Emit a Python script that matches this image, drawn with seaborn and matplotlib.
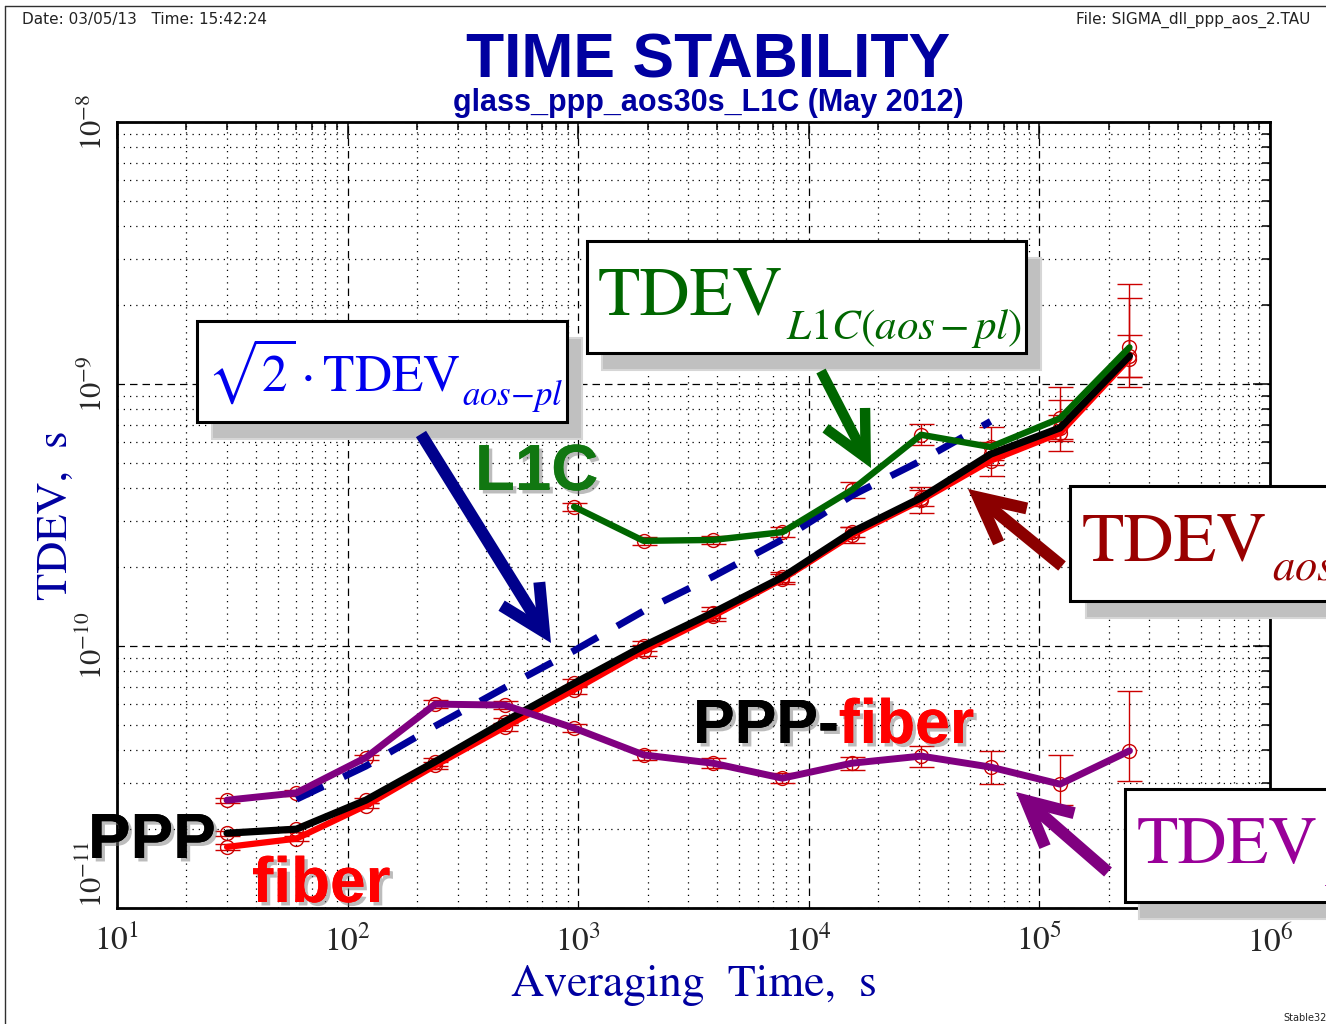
import numpy as np
import pandas as pd
import matplotlib
matplotlib.use("Agg")
import matplotlib.pyplot as plt
import seaborn as sns
from matplotlib.patches import Rectangle, FancyArrowPatch, ArrowStyle
import matplotlib.patheffects as pe
from matplotlib.ticker import FixedLocator, FixedFormatter, LogLocator, NullFormatter

# ---------------- data ----------------
tau = [30, 60, 120, 240, 480, 960, 1920, 3840, 7680, 15360, 30720, 61440, 122880, 245760]

tdev_aos_pl = [1.71e-11, 1.84e-11, 2.46e-11, 3.50e-11, 4.90e-11, 6.80e-11, 9.60e-11,
               1.30e-10, 1.80e-10, 2.65e-10, 3.60e-10, 5.10e-10, 6.50e-10, 1.25e-9]
tdev_ppp = [1.93e-11, 2.00e-11, 2.58e-11, 3.62e-11, 5.15e-11, 7.20e-11, 1.00e-10,
            1.34e-10, 1.83e-10, 2.72e-10, 3.68e-10, 5.40e-10, 6.80e-10, 1.28e-9]
tdev_ppp_fiber = [2.58e-11, 2.75e-11, 3.75e-11, 6.00e-11, 5.95e-11, 4.86e-11, 3.84e-11,
                  3.57e-11, 3.13e-11, 3.57e-11, 3.80e-11, 3.45e-11, 2.97e-11, 3.98e-11]
tau_l1c = [960, 1920, 3840, 7680, 15360, 30720, 61440, 122880, 245760]
tdev_l1c = [3.40e-10, 2.52e-10, 2.54e-10, 2.72e-10, 3.94e-10, 6.40e-10, 5.75e-10, 7.40e-10, 1.38e-9]
tau_sqrt2 = [60, 120, 240, 480, 960, 1920, 3840, 7680, 15360, 30720, 61440]
sqrt2_tdev_aos_pl = [2.60e-11, 3.48e-11, 4.95e-11, 6.93e-11, 9.60e-11, 1.36e-10,
                     1.84e-10, 2.55e-10, 3.75e-10, 5.10e-10, 7.20e-10]

# error bars, in decades below / above each point
err_aos_lo = [0.01, 0.01, 0.01, 0.015, 0.015, 0.015, 0.02, 0.02, 0.02, 0.03, 0.05, 0.06, 0.07, 0.11]
err_aos_hi = [0.01, 0.01, 0.01, 0.015, 0.015, 0.015, 0.02, 0.02, 0.02, 0.03, 0.05, 0.07, 0.125, 0.23]
err_ppp_lo = [0.01, 0.01, 0.01, 0.015, 0.015, 0.015, 0.02, 0.02, 0.02, 0.02, 0.03, 0.04, 0.05, 0.08]
err_ppp_hi = [0.01, 0.01, 0.01, 0.015, 0.015, 0.015, 0.02, 0.02, 0.02, 0.02, 0.03, 0.04, 0.05, 0.08]
err_fib_lo = [0.01, 0.01, 0.01, 0.015, 0.015, 0.015, 0.02, 0.02, 0.02, 0.025, 0.04, 0.065, 0.08, 0.115]
err_fib_hi = [0.01, 0.01, 0.01, 0.015, 0.015, 0.015, 0.02, 0.02, 0.02, 0.025, 0.04, 0.06, 0.11, 0.23]
err_l1c_lo = [0.015, 0.015, 0.015, 0.02, 0.03, 0.04, 0.05, 0.08, 0.115]
err_l1c_hi = [0.015, 0.015, 0.015, 0.02, 0.03, 0.04, 0.075, 0.12, 0.24]

x_ticks = [1e1, 1e2, 1e3, 1e4, 1e5, 1e6]
x_tick_labels = [r'$10^{1}$', r'$10^{2}$', r'$10^{3}$', r'$10^{4}$', r'$10^{5}$', r'$10^{6}$']
y_ticks = [1e-11, 1e-10, 1e-9, 1e-8]
y_tick_labels = [r'$10^{{-}11}$', r'$10^{{-}10}$', r'$10^{{-}9}$', r'$10^{{-}8}$']

# ---------------- style ----------------
sns.set_style("white")
plt.rcParams['font.family'] = ['STIXGeneral', 'DejaVu Serif']
plt.rcParams['mathtext.fontset'] = 'stix'

W, H = 1326, 1024
fig = plt.figure(figsize=(W / 100, H / 100), dpi=100)
fig.patch.set_facecolor('white')

ax_l, ax_r, ax_t, ax_b = 117, 1270, 122, 908
ax = fig.add_axes([ax_l / W, 1 - ax_b / H, (ax_r - ax_l) / W, (ax_b - ax_t) / H])
ax.set_xscale('log')
ax.set_yscale('log')

mk = '#cc0000'


def draw_err(t, v, lo, hi):
    v = np.asarray(v)
    lo_abs = v - v * 10 ** (-np.asarray(lo))
    hi_abs = v * 10 ** np.asarray(hi) - v
    ax.errorbar(t, v, yerr=[lo_abs, hi_abs], fmt='o', ms=10, mfc='none', mec=mk, mew=1,
                ecolor=mk, elinewidth=1, capsize=9, capthick=1, zorder=2)


draw_err(tau, tdev_aos_pl, err_aos_lo, err_aos_hi)
draw_err(tau, tdev_ppp, err_ppp_lo, err_ppp_hi)
draw_err(tau, tdev_ppp_fiber, err_fib_lo, err_fib_hi)
draw_err(tau_l1c, tdev_l1c, err_l1c_lo, err_l1c_hi)

df_aos = pd.DataFrame({'tau': tau, 'tdev': tdev_aos_pl})
df_ppp = pd.DataFrame({'tau': tau, 'tdev': tdev_ppp})
df_fib = pd.DataFrame({'tau': tau, 'tdev': tdev_ppp_fiber})
df_l1c = pd.DataFrame({'tau': tau_l1c, 'tdev': tdev_l1c})
df_sq2 = pd.DataFrame({'tau': tau_sqrt2, 'tdev': sqrt2_tdev_aos_pl})

common = dict(x='tau', y='tdev', ax=ax, sort=False, estimator=None, legend=False)
sns.lineplot(data=df_aos, color='#ff0000', linewidth=4.5, zorder=3, **common)
sns.lineplot(data=df_ppp, color='black', linewidth=5.2, zorder=4, **common)
sns.lineplot(data=df_sq2, color='#00009a', linewidth=5, zorder=5,
             linestyle=(0, (4.3, 3.2)), **common)
sns.lineplot(data=df_fib, color='#800080', linewidth=5, zorder=6, **common)
sns.lineplot(data=df_l1c, color='#006600', linewidth=4.6, zorder=7, **common)

ax.set_xlim(1e1, 1e6)
ax.set_ylim(1e-11, 1e-8)
ax.xaxis.set_major_locator(FixedLocator(x_ticks))
ax.xaxis.set_major_formatter(FixedFormatter(x_tick_labels))
ax.yaxis.set_major_locator(FixedLocator(y_ticks))
ax.yaxis.set_major_formatter(FixedFormatter(y_tick_labels))
ax.xaxis.set_minor_locator(LogLocator(base=10, subs=np.arange(2, 10), numticks=50))
ax.yaxis.set_minor_locator(LogLocator(base=10, subs=np.arange(2, 10), numticks=50))
ax.xaxis.set_minor_formatter(NullFormatter())
ax.yaxis.set_minor_formatter(NullFormatter())

ax.set_axisbelow(True)
ax.grid(which='major', color='black', linestyle=(0, (6, 4)), linewidth=0.9)
ax.grid(which='minor', color='black', linestyle=(0, (1, 4)), linewidth=0.9)
ax.tick_params(which='both', direction='in', top=True, right=True, width=1.1, color='black')
ax.tick_params(which='major', length=12)
ax.tick_params(which='minor', length=6)
ax.tick_params(axis='x', which='major', pad=12, labelsize=24)
ax.tick_params(axis='y', which='major', pad=6, labelsize=22)
ylabs = ax.get_yticklabels()
for lab in ylabs:
    lab.set_rotation(90)
    lab.set_va('center')
ylabs[0].set_va('bottom')
for s in ax.spines.values():
    s.set_linewidth(2)
    s.set_color('black')

ax.set_xlabel('Averaging  Time,  s', fontsize=33, color='#0000a0', labelpad=4)
ax.set_ylabel('TDEV,  s', fontsize=32, color='#0000a0')
ax.yaxis.set_label_coords((76 - ax_l) / (ax_r - ax_l), 0.5)

# ---------------- overlay for annotations (pixel coordinates) ----------------
ov = fig.add_axes([0, 0, 1, 1])
ov.set_xlim(0, W)
ov.set_ylim(H, 0)
ov.axis('off')
ov.patch.set_visible(False)

ov.plot([5, W], [6, 6], color='#303030', lw=1)
ov.plot([5, 5], [6, H], color='#303030', lw=1)

ov.text(22, 24, 'Date: 03/05/13   Time: 15:42:24', fontsize=11, family='DejaVu Sans',
        color='#222222', va='baseline')
ov.text(1310, 24, 'File: SIGMA_dll_ppp_aos_2.TAU', fontsize=11, family='DejaVu Sans',
        color='#222222', va='baseline', ha='right')
ov.text(1283, 1021, 'Stable32', fontsize=7, family='DejaVu Sans', color='#222222', va='baseline')

ov.text(708, 77, 'TIME STABILITY', ha='center', va='baseline', fontsize=45,
        fontweight='bold', family='Liberation Sans', color='#0000a0')
ov.text(708, 111, 'glass_ppp_aos30s_L1C (May 2012)', ha='center', va='baseline', fontsize=22,
        fontweight='bold', family='Liberation Sans', color='#0000a0')


def box(x0, y0, w, h, dx=15, dy=16):
    ov.add_patch(Rectangle((x0 + dx, y0 + dy), w, h, facecolor='#c0c0c0', edgecolor='#d6d6d6',
                           lw=1.5, zorder=1, clip_on=False))
    ov.add_patch(Rectangle((x0, y0), w, h, facecolor='white', edgecolor='black',
                           lw=2.2, zorder=2, clip_on=False))


def label(x, y, main, sub, ysub, color, fs, fss, gap):
    t = ov.text(x, y, main, fontsize=fs, color=color, va='baseline', ha='left',
                family='STIXGeneral', zorder=3)
    ov.annotate(sub, xy=(1, ysub), xycoords=(t, 'data'), xytext=(gap, 0),
                textcoords='offset pixels', fontsize=fss, color=color, va='baseline',
                ha='left', zorder=3, annotation_clip=False)


box(197, 321, 370, 101, 15, 17)
label(207, 391, r'$\sqrt{2}\cdot\mathrm{TDEV}$', r'$aos{-}pl$', 405, '#0000ee', 37, 25, 2)

box(587, 241, 439, 112, 15, 17)
label(598, 315, 'TDEV', r'$L1C(aos\,{-}\,pl)$', 339, '#006600', 50, 31, 3)

box(1070, 486, 320, 115, 16, 17)
label(1082, 562, 'TDEV', r'$aos{-}pl$', 580, '#990000', 50, 32, 4)

box(1125, 789, 260, 113, 14, 17)
label(1137, 863, 'TDEV', r'$PPP{-}fiber$', 886, '#990099', 49, 32, 6)

shadow = [pe.withSimplePatchShadow(offset=(2.5, -2.5), shadow_rgbFace='#7a7a7a', alpha=0.5),
          pe.Normal()]
bold = dict(family='Liberation Sans', fontweight='bold', va='baseline', ha='left', zorder=3)
ov.text(475, 490, 'L1C', fontsize=47, color='#117711', path_effects=shadow, **bold)
tp = ov.text(693, 743, 'PPP-', fontsize=45, color='black', path_effects=shadow, **bold)
ov.annotate('fiber', xy=(1, 743), xycoords=(tp, 'data'), xytext=(0, 0),
            textcoords='offset pixels', fontsize=45, color='#ff0000', path_effects=shadow,
            annotation_clip=False, **bold)
ov.text(88, 858, 'PPP', fontsize=46, color='black', path_effects=shadow, **bold)
ov.text(252, 902, 'fiber', fontsize=46, color='#ff0000', path_effects=shadow, **bold)


def arrow(tail, tip, color, lw=8.6):
    a = FancyArrowPatch(posA=tail, posB=tip,
                        arrowstyle=ArrowStyle('->', head_length=32, head_width=16),
                        mutation_scale=1, lw=lw, color=color, shrinkA=0, shrinkB=0,
                        capstyle='butt', joinstyle='miter', zorder=4)
    ov.add_patch(a)


arrow((421, 434), (551, 643), '#00008c')
arrow((821, 371), (871, 468), '#006600', lw=7.5)
arrow((1062, 566), (968, 489), '#8b0000')
arrow((1108, 872), (1016, 792), '#800080')

fig.savefig('out.png', dpi=100, facecolor='white')
